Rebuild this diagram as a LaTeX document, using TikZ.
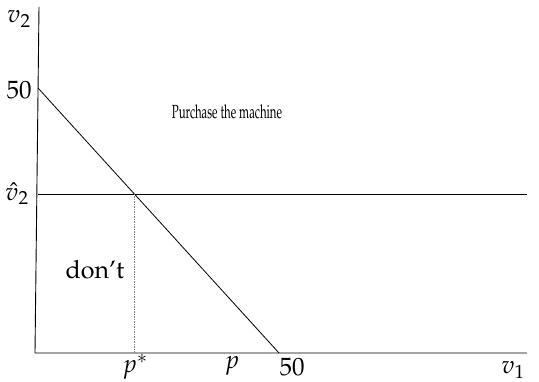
\documentclass[tikz,border=0pt]{standalone}
\usepackage[T1]{fontenc}
\usepackage{mathpazo}
\usepackage{graphicx}
\begin{document}
\begin{tikzpicture}[x=1pt,y=-1pt,
  axis/.style={line width=0.9pt,black},
  curve/.style={line width=0.8pt,black},
  guide/.style={line width=0.6pt,gray,dash pattern=on 1.5pt off 1pt},
  lbl/.style={inner sep=0pt,font=\fontsize{25}{29}\selectfont}]
\useasboundingbox (0,0) rectangle (539,382);
\coordinate (top) at (39,7);
\coordinate (O) at (35,353);
\coordinate (xend) at (527,353);
\coordinate (y50) at (38,88);
\coordinate (x50) at (279,353);
\coordinate (vh) at (38,194);
\coordinate (vhend) at (527,194);
\coordinate (I) at (134,194);
\coordinate (Ib) at (134,353);
\draw[axis] (top) -- (O) -- (xend);
\draw[curve] (y50) -- (x50);
\draw[curve] (vh) -- (vhend);
\draw[guide] (I) -- (Ib);
\node[lbl] (lv2) at (19,19) {$v_2$};
\node[lbl] (l50y) at (19,90) {$50$};
\node[lbl] (lvh) at (17,194) {$\hat{v}_2$};
\node[lbl] (lpm) at (227,112) {\scalebox{0.6}[1]{\fontsize{19}{22}\selectfont Purchase the machine}};
\node[lbl] (ldont) at (95,270) {don't};
\node[lbl] (lps) at (135,367) {$p^*$};
\node[lbl] (lp) at (232,366) {$p$};
\node[lbl] (l50x) at (292,367) {$50$};
\node[lbl] (lv1) at (513,370) {$v_1$};
\end{tikzpicture}
\end{document}
